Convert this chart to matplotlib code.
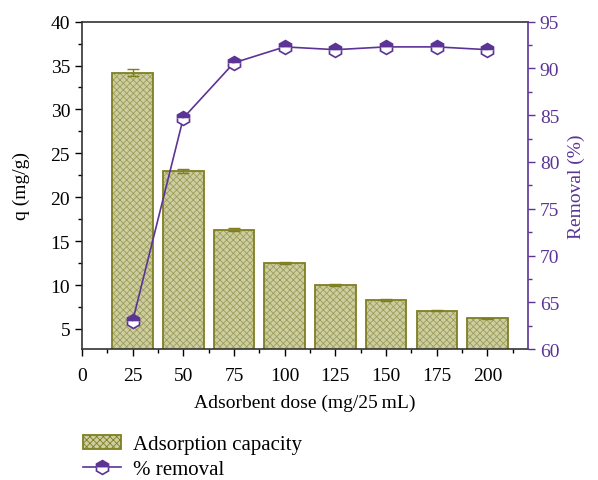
import numpy as np
import matplotlib.pyplot as plt
from matplotlib.patches import Patch
from matplotlib.ticker import MultipleLocator

# adsorbent dose (mg per 25 mL)
dose = [25, 50, 75, 100, 125, 150, 175, 200]
# adsorption capacity q (mg/g) and its error
q_vals = [34.2, 23.0, 16.3, 12.5, 10.0, 8.3, 7.1, 6.2]
q_err = [0.4, 0.2, 0.15, 0.1, 0.15, 0.1, 0.08, 0.06]
# removal efficiency (%)
removal = [63.0, 84.7, 90.6, 92.3, 92.0, 92.3, 92.3, 92.0]

purple = "#5b3495"
olive = "#7f7f22"
hatch_col = "#9c9c5c"
khaki = "#cdcea0"

plt.rcParams["font.family"] = ["Liberation Serif", "DejaVu Serif"]
plt.rcParams["hatch.linewidth"] = 0.6
plt.rcParams["font.size"] = 14

fig = plt.figure(figsize=(5.98, 4.81), dpi=100)
ax = fig.add_axes([0.137, 0.272, 0.746, 0.681])

# fill + fine crosshatch, then outline on top
ax.bar(dose, q_vals, width=20, color=khaki, edgecolor=hatch_col,
       hatch="xxxxx", linewidth=0, zorder=2)
ax.bar(dose, q_vals, width=20, fill=False, edgecolor=olive,
       linewidth=1.3, zorder=2)
ax.errorbar(dose, q_vals, yerr=q_err, fmt="none", ecolor=olive,
            capsize=4, elinewidth=1, zorder=3)

ax.set_xlim(0, 220)
ax.set_ylim(2.7, 40)
ax.xaxis.set_major_locator(MultipleLocator(25))
ax.xaxis.set_minor_locator(MultipleLocator(12.5))
ax.yaxis.set_minor_locator(MultipleLocator(2.5))
ax.set_yticks([5, 10, 15, 20, 25, 30, 35, 40])
ax.tick_params(which="major", length=5, width=1, direction="out", labelsize=14)
ax.tick_params(axis="x", which="major", pad=8)
ax.tick_params(which="minor", length=3, width=1, direction="out")
ax.tick_params(top=False, right=False, which="both")
for s in ["left", "bottom", "top"]:
    ax.spines[s].set_color("#333333")
    ax.spines[s].set_linewidth(1.2)
ax.spines["right"].set_visible(False)
ax.set_xlabel("Adsorbent dose (mg/25\u2009mL)", fontsize=14, labelpad=7)
ax.set_ylabel("q (mg/g)", fontsize=14, labelpad=15)

ax2 = ax.twinx()
ln, = ax2.plot(dose, removal, color=purple, lw=1.2, marker="h", markersize=10,
               fillstyle="top", markerfacecolor=purple, markerfacecoloralt="white",
               markeredgecolor=purple, markeredgewidth=1.2, zorder=4)
ax2.set_ylim(60, 95)
ax2.yaxis.set_major_locator(MultipleLocator(5))
ax2.yaxis.set_minor_locator(MultipleLocator(2.5))
ax2.tick_params(which="major", length=5, width=1, colors=purple, direction="out", labelsize=14)
ax2.tick_params(which="minor", length=3, width=1, colors=purple, direction="out")
for s in ["left", "bottom", "top"]:
    ax2.spines[s].set_visible(False)
ax2.spines["right"].set_color(purple)
ax2.spines["right"].set_linewidth(1.2)
ax2.set_ylabel("Removal (%)", color=purple, fontsize=14, labelpad=6)

bar_proxy = Patch(facecolor=khaki, edgecolor=olive, hatch="xxxxx", linewidth=1.3)
fig.legend([bar_proxy, ln], ["Adsorption capacity", "% removal"], loc="upper left",
           bbox_to_anchor=(0.108, 0.133), frameon=False, handlelength=1.8,
           handletextpad=0.6, labelspacing=0.25, fontsize=15)

fig.savefig("out.png", dpi=100)
